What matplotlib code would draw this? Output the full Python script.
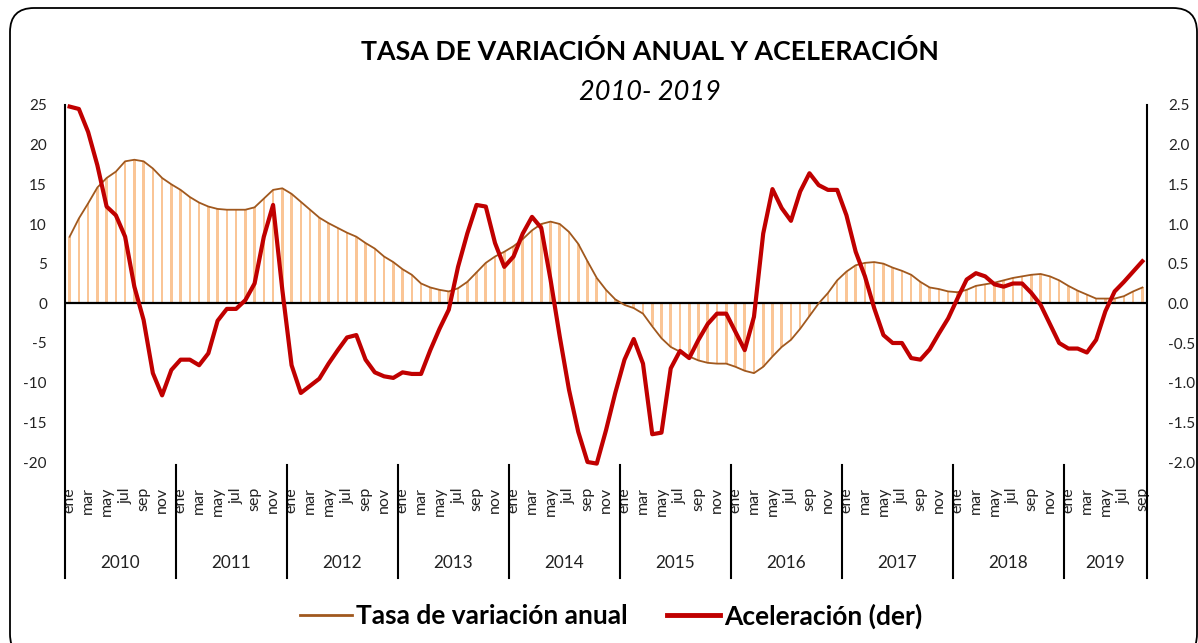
import matplotlib
matplotlib.use("Agg")
import matplotlib.pyplot as plt
import numpy as np
from matplotlib.patches import FancyBboxPatch
from matplotlib.lines import Line2D
from matplotlib.transforms import IdentityTransform

plt.rcParams['font.family'] = ['Lato', 'DejaVu Sans']

# ---------------- data ----------------
years = ['2010', '2011', '2012', '2013', '2014', '2015', '2016', '2017', '2018', '2019']
month_names = ['ene', 'feb', 'mar', 'abr', 'may', 'jun', 'jul', 'ago', 'sep', 'oct', 'nov', 'dic']
months_per_year = [12, 12, 12, 12, 12, 12, 12, 12, 12, 9]

tasa = [8.4, 10.7, 12.6, 14.6, 15.8, 16.6, 17.9, 18.1, 17.9, 17.0, 15.8, 15.0,
        14.3, 13.4, 12.7, 12.2, 11.9, 11.8, 11.8, 11.8, 12.1, 13.2, 14.3, 14.5,
        13.8, 12.8, 11.8, 10.8, 10.1, 9.5, 8.9, 8.4, 7.6, 6.9, 5.9, 5.2,
        4.3, 3.6, 2.5, 2.0, 1.7, 1.5, 1.9, 2.7, 3.9, 5.1, 5.9, 6.5,
        7.2, 8.1, 9.2, 10.0, 10.3, 10.0, 9.0, 7.5, 5.3, 3.2, 1.7, 0.5,
        -0.2, -0.6, -1.3, -2.9, -4.4, -5.5, -6.1, -6.7, -7.2, -7.5, -7.6, -7.6,
        -8.0, -8.5, -8.8, -8.0, -6.7, -5.5, -4.6, -3.2, -1.6, 0.0, 1.3, 2.9,
        4.0, 4.8, 5.1, 5.2, 5.0, 4.5, 4.1, 3.6, 2.7, 2.0, 1.8, 1.5,
        1.4, 1.7, 2.2, 2.4, 2.6, 2.9, 3.2, 3.4, 3.6, 3.7, 3.4, 2.9,
        2.2, 1.6, 1.1, 0.6, 0.6, 0.6, 0.9, 1.5, 2.0]

aceleracion = [2.48, 2.45, 2.16, 1.74, 1.22, 1.11, 0.84, 0.21, -0.21, -0.88, -1.16, -0.84,
               -0.71, -0.71, -0.78, -0.63, -0.22, -0.07, -0.07, 0.04, 0.25, 0.84, 1.24, 0.17,
               -0.78, -1.13, -1.04, -0.95, -0.76, -0.59, -0.43, -0.40, -0.71, -0.87, -0.92, -0.94,
               -0.87, -0.89, -0.89, -0.59, -0.32, -0.08, 0.46, 0.88, 1.24, 1.22, 0.76, 0.46,
               0.59, 0.88, 1.09, 0.95, 0.30, -0.42, -1.09, -1.62, -2.00, -2.02, -1.60, -1.13,
               -0.71, -0.45, -0.76, -1.65, -1.63, -0.82, -0.60, -0.69, -0.46, -0.26, -0.13, -0.13,
               -0.36, -0.59, -0.17, 0.88, 1.44, 1.20, 1.04, 1.41, 1.64, 1.49, 1.43, 1.43,
               1.11, 0.65, 0.34, -0.06, -0.40, -0.50, -0.50, -0.69, -0.71, -0.58, -0.38, -0.19,
               0.06, 0.30, 0.38, 0.34, 0.24, 0.21, 0.25, 0.25, 0.13, -0.02, -0.26, -0.50,
               -0.57, -0.57, -0.62, -0.46, -0.10, 0.15, 0.27, 0.40, 0.53]

left_ticks = [-20, -15, -10, -5, 0, 5, 10, 15, 20, 25]
right_ticks = [-2.0, -1.5, -1.0, -0.5, 0.0, 0.5, 1.0, 1.5, 2.0, 2.5]

title = 'TASA DE VARIACIÓN ANUAL Y ACELERACIÓN'
subtitle = '2010- 2019'
label_tasa = 'Tasa de variación anual'
label_acel = 'Aceleración (der)'

# ---------------- figure ----------------
W, H = 1198, 643
fig = plt.figure(figsize=(W / 100, H / 100), dpi=100)
fig.patch.set_facecolor('white')

ax_left_px, ax_right_px = 65, 1147
ax_top_px, ax_bot_px = 105, 462
ax = fig.add_axes([ax_left_px / W, 1 - ax_bot_px / H,
                   (ax_right_px - ax_left_px) / W, (ax_bot_px - ax_top_px) / H])
ax2 = ax.twinx()

n = len(tasa)
x = np.arange(n)

bar_color = '#FAC596'
line_brown = '#A0581E'
red = '#C00000'
txt = '#222222'

ax.bar(x, tasa, width=0.28, color=bar_color, zorder=1, linewidth=0)
ax.plot(x, tasa, color=line_brown, lw=1.3, zorder=3)
ax.axhline(0, color='black', lw=1.6, zorder=2)
ax.set_xlim(-0.5, n - 0.5)
ax.set_ylim(-20, 25)
ax.set_yticks(left_ticks)
ax.set_yticklabels([str(t) for t in left_ticks])
ax.tick_params(axis='y', length=0, pad=13, labelsize=11, labelcolor=txt)
ax.set_xticks([])
for s in ax.spines.values():
    s.set_visible(False)

ax2.plot(x, aceleracion, color=red, lw=3.0, zorder=5, solid_joinstyle='round', clip_on=False)
ax2.set_ylim(-2.0, 2.5)
ax2.set_yticks(right_ticks)
ax2.set_yticklabels([f'{t:.1f}' for t in right_ticks])
ax2.tick_params(axis='y', length=0, pad=15, labelsize=11, labelcolor=txt)
for s in ax2.spines.values():
    s.set_visible(False)
ax2.set_xlim(-0.5, n - 0.5)

# axis lines and category axis
tr = ax.get_xaxis_transform()
span = ax_bot_px - ax_top_px
low = (ax_bot_px - 578) / span
sep_top = (ax_bot_px - 465) / span
ax.plot([-0.5, -0.5], [1.0, low], transform=tr, color='black', lw=1.5, clip_on=False, zorder=6)
ax.plot([n - 0.5, n - 0.5], [1.0, low], transform=tr, color='black', lw=1.5, clip_on=False, zorder=6)
start = 0
for k, m in enumerate(months_per_year):
    if k > 0:
        ax.plot([start - 0.5, start - 0.5], [sep_top, low], transform=tr, color='black',
                lw=1.5, clip_on=False, zorder=6)
    ax.text(start - 0.5 + m / 2, (ax_bot_px - 563) / span, years[k],
            transform=tr, ha='center', va='center', fontsize=12.3, color=txt)
    start += m

mlab_y = (ax_bot_px - 487) / span
for i in range(0, n, 2):
    ax.text(i, mlab_y, month_names[i % 12], transform=tr, rotation=90,
            ha='center', va='top', fontsize=11.5, color=txt)

# titles
fig.text(650 / W, 1 - 52 / H, title, ha='center', va='center', fontsize=19.3,
         fontweight='bold', color='black')
fig.text(650 / W, 1 - 92 / H, subtitle, ha='center', va='center', fontsize=19.5,
         style='italic', color='black')

# legend
handles = [Line2D([], [], color=line_brown, lw=2.0), Line2D([], [], color=red, lw=3.5)]
fig.legend(handles, [label_tasa, label_acel], loc='center', ncol=2,
           bbox_to_anchor=(611 / W, 1 - 616 / H), frameon=False,
           prop={'weight': 'bold', 'size': 19}, handlelength=2.0, handletextpad=0.15,
           columnspacing=1.5)

# rounded frame
frame = FancyBboxPatch((10, -15), 1187, 635 + 15, boxstyle='round,pad=0,rounding_size=24',
                       transform=IdentityTransform(), facecolor='none', edgecolor='black',
                       lw=1.3, zorder=0)
fig.patches.append(frame)

fig.savefig('out.png', dpi=100)
